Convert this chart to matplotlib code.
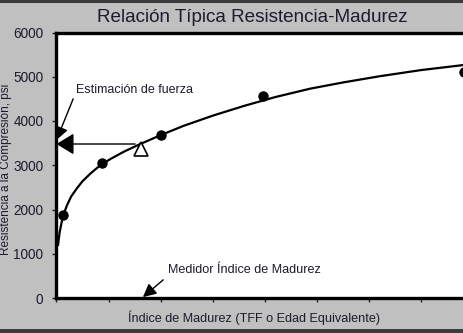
import matplotlib
matplotlib.use("Agg")
import matplotlib.pyplot as plt

plt.rcParams['font.family'] = ['Liberation Sans', 'DejaVu Sans']

# Data
point_x = [0.13, 0.87, 2.0, 3.97, 7.82]
point_y = [1880, 3060, 3690, 4570, 5100]

curve_x = [0.03, 0.06, 0.1, 0.14, 0.2, 0.28, 0.38, 0.5, 0.65, 0.84, 1.05, 1.3, 1.6,
           2.0, 2.44, 3.0, 3.6, 4.2, 4.87, 5.5, 6.2, 7.0, 7.82, 8.2]
curve_y = [1200, 1480, 1720, 1900, 2090, 2290, 2460, 2640, 2810, 3000, 3150, 3310, 3475,
           3680, 3890, 4120, 4340, 4540, 4730, 4870, 5010, 5150, 5265, 5310]

measure_x = 1.63
measure_y = 3370
estimate_y = 3480

x_ticks = [0, 1, 2, 3, 4, 5, 6, 7, 8]
y_ticks = [0, 1000, 2000, 3000, 4000, 5000, 6000]

title = "Relación Típica Resistencia-Madurez"
xlabel = "Índice de Madurez (TFF o Edad Equivalente)"
ylabel = "Resistencia a la Compresión, psi"
label_estimate = "Estimación de fuerza"
label_meter = "Medidor Índice de Madurez"

bg = '#c0c0c0'
txt = '#1c1c2c'

fig = plt.figure(figsize=(4.64, 3.33), dpi=100, facecolor=bg)
ax = fig.add_axes([56.5/464, 35/333, 416.4/464, 265.5/333])
ax.set_facecolor('white')

ax.plot(curve_x, curve_y, color='black', lw=1.6, zorder=3, clip_on=True,
        solid_joinstyle='round')
ax.plot(point_x, point_y, 'o', color='black', ms=6.5, zorder=4, clip_on=False)
ax.plot([measure_x], [measure_y], marker='^', ms=10, mfc='white', mec='black', mew=1.2,
        ls='none', zorder=5)

# horizontal estimate arrow
ax.annotate('', xy=(0.0, estimate_y), xytext=(measure_x - 0.12, estimate_y),
            arrowprops=dict(arrowstyle='-|>,head_length=0.9,head_width=0.55', color='black',
                            lw=1.0, mutation_scale=12, shrinkA=0, shrinkB=0), zorder=6,
            annotation_clip=False)
# estimate label arrow
ax.annotate('', xy=(0.0, 3570), xytext=(0.32, 4500),
            arrowprops=dict(arrowstyle='-|>,head_length=0.8,head_width=0.4', color='black',
                            lw=1.0, mutation_scale=10, shrinkA=0, shrinkB=0), zorder=6,
            annotation_clip=False)
ax.text(0.375, 4700, label_estimate, fontsize=9.0, color=txt, va='center', ha='left')

# maturity meter arrow
ax.annotate('', xy=(measure_x + 0.03, 20), xytext=(2.05, 410),
            arrowprops=dict(arrowstyle='-|>,head_length=0.8,head_width=0.4', color='black',
                            lw=1.0, mutation_scale=10, shrinkA=0, shrinkB=0), zorder=6,
            annotation_clip=False)
ax.text(2.14, 640, label_meter, fontsize=9.1, color=txt, va='center', ha='left')

ax.set_xlim(0, 8)
ax.set_ylim(0, 6000)
ax.set_xticks(x_ticks)
ax.set_xticklabels([])
ax.set_yticks(y_ticks)
ax.set_yticklabels([str(v) for v in y_ticks], fontsize=9.8, color=txt)
ax.tick_params(axis='both', direction='out', length=3, width=1, color='#222222', pad=6.5)

for side in ['left', 'bottom', 'top']:
    ax.spines[side].set_linewidth(2.4)
    ax.spines[side].set_color('black')
ax.spines['right'].set_visible(False)

fig.text(252/464, 1 - 17/333, title, fontsize=13.6, color=txt, ha='center', va='center')
fig.text(254/464, 1 - 318/333, xlabel, fontsize=9.1, color=txt, ha='center', va='center')
fig.text(6/464, 1 - 169/333, ylabel, fontsize=8.5, color=txt, ha='center', va='center',
         rotation=90)

# frame lines at top and bottom of the figure
fig.add_artist(plt.Line2D([0, 1], [1 - 1/333, 1 - 1/333], color='#3a3a3a', lw=2.2,
                          transform=fig.transFigure))
fig.add_artist(plt.Line2D([0, 1], [2/333, 2/333], color='#3a3a3a', lw=2.8,
                          transform=fig.transFigure))

fig.savefig('out.png', dpi=100, facecolor=bg)
